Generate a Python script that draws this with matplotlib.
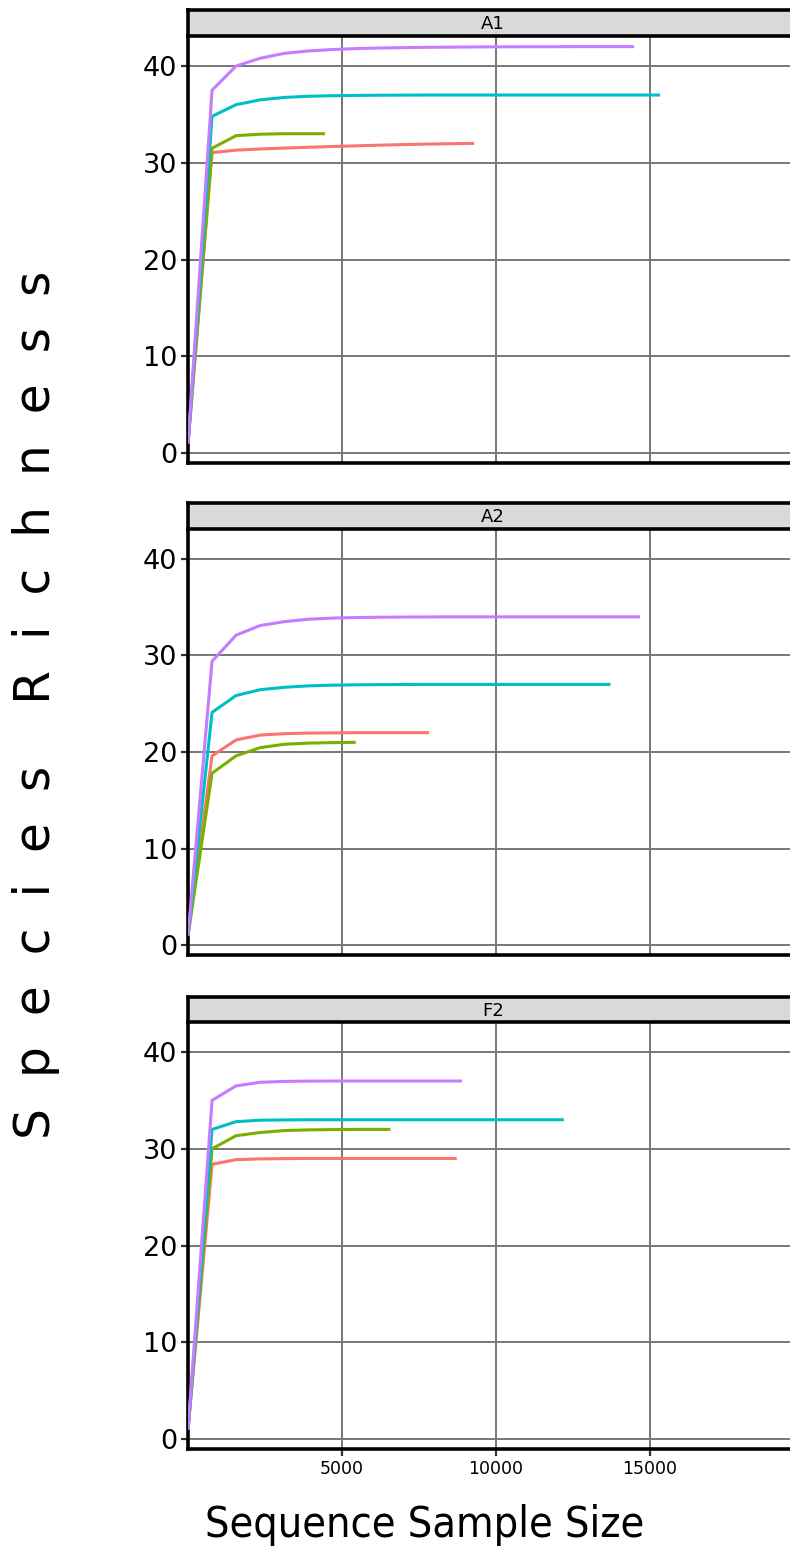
####################################################################
# rarefaction curves, 3 facets (A1 / A2 / F2), ggplot-ish look
####################################################################

import matplotlib
matplotlib.use("Agg")
from matplotlib import pyplot as plt
from matplotlib import font_manager as fm

# sampling depths shared by every curve (last point = the sample size)
depth_grid = [1, 781, 1561, 2341, 3121, 3901, 4681, 5461, 6241, 7021, 7801,
              8581, 9361, 10141, 10921, 11701, 12481, 13261, 14041, 14821]

facets = ["A1", "A2", "F2"]
colors = ["#F8766D", "#7CAE00", "#00BFC4", "#C77CFF"]

# final sample size of each curve, per facet (red, green, cyan, purple)
a1_ends = [9286, 4448, 15325, 14481]
a2_ends = [7825, 5445, 13712, 14675]
f2_ends = [8723, 6568, 12198, 8896]

# richness values along depth_grid (+ the end point)
a1_red = [1, 31.05, 31.3, 31.42, 31.52, 31.6, 31.68, 31.75, 31.82, 31.88, 31.93, 31.97, 32.0]
a1_green = [1, 31.5, 32.8, 32.95, 33.0, 33.0, 33.0]
a1_cyan = [1, 34.8, 36.0, 36.5, 36.75, 36.87, 36.93, 36.96, 36.98, 36.99,
           37, 37, 37, 37, 37, 37, 37, 37, 37, 37, 37]
a1_purple = [1, 37.5, 40.0, 40.8, 41.3, 41.55, 41.7, 41.8, 41.86, 41.9, 41.93,
             41.95, 41.97, 41.98, 41.99, 41.99, 42, 42, 42, 42]

a2_red = [1, 19.6, 21.25, 21.75, 21.9, 21.96, 21.98, 22, 22, 22, 22, 22]
a2_green = [1, 17.8, 19.6, 20.45, 20.8, 20.92, 20.97, 21.0]
a2_cyan = [1, 24.1, 25.85, 26.45, 26.7, 26.85, 26.92, 26.96, 26.98, 26.99,
           27, 27, 27, 27, 27, 27, 27, 27, 27]
a2_purple = [1, 29.4, 32.1, 33.1, 33.5, 33.75, 33.87, 33.93, 33.96, 33.98, 33.99,
             34, 34, 34, 34, 34, 34, 34, 34, 34]

f2_red = [1, 28.4, 28.87, 28.95, 28.98, 29, 29, 29, 29, 29, 29, 29, 29]
f2_green = [1, 30.0, 31.35, 31.68, 31.88, 31.95, 31.98, 32, 32, 32]
f2_cyan = [1, 32.0, 32.8, 32.95, 32.98, 33, 33, 33, 33, 33, 33, 33, 33, 33, 33, 33, 33]
f2_purple = [1, 35.0, 36.5, 36.87, 36.96, 36.99, 37, 37, 37, 37, 37, 37, 37]

facet_data = {
    "A1": (a1_ends, [a1_red, a1_green, a1_cyan, a1_purple]),
    "A2": (a2_ends, [a2_red, a2_green, a2_cyan, a2_purple]),
    "F2": (f2_ends, [f2_red, f2_green, f2_cyan, f2_purple]),
}

y_ticks = [0, 10, 20, 30, 40]
x_ticks = [5000, 10000, 15000]
x_ticklabels = ["5000", "10000", "15000"]

#####################################################################

W, H = 790, 1551
fig = plt.figure(figsize=(W / 100, H / 100), dpi=100)

# pixel boxes (top, bottom) of each strip / panel
strip_px = [(10, 36), (503, 529), (997, 1022)]
panel_px = [(36, 463), (529, 955), (1022, 1449)]
left_px, right_px = 188, 798


def box(top, bot):
    return [left_px / W, 1 - bot / H, (right_px - left_px) / W, (bot - top) / H]


for i, name in enumerate(facets):
    ax = fig.add_axes(box(*panel_px[i]))
    ends, series = facet_data[name]
    for ys, end, col in zip(series, ends, colors):
        xs = depth_grid[:len(ys) - 1] + [end]
        ax.plot(xs, ys, color=col, lw=2.2, solid_capstyle="butt", zorder=3)

    ax.set_xlim(0, 19800)
    ax.set_ylim(-1.03, 43.1)
    ax.set_yticks(y_ticks)
    ax.set_xticks(x_ticks)
    ax.grid(True, color="#777777", lw=1.4, zorder=0)
    ax.set_axisbelow(True)
    for s in ["top", "right"]:
        ax.spines[s].set_visible(False)
    for s in ["left", "bottom"]:
        ax.spines[s].set_linewidth(2.6)
        ax.spines[s].set_color("black")
    ax.tick_params(axis="y", labelsize=19.5, length=5, width=1.6, color="#333333", pad=3)
    if i == 2:
        ax.set_xticklabels(x_ticklabels)
        ax.tick_params(axis="x", labelsize=12.5, length=5, width=1.6, color="#333333", pad=3)
    else:
        ax.tick_params(axis="x", length=0, labelbottom=False)

    # facet strip
    sx = fig.add_axes(box(*strip_px[i]))
    sx.set_facecolor("#D9D9D9")
    sx.set_xticks([])
    sx.set_yticks([])
    sx.set_xlim(0, 1)
    sx.set_ylim(0, 1)
    for s in sx.spines.values():
        s.set_linewidth(2.6)
        s.set_color("black")
    sx.spines["right"].set_visible(False)
    sx.text(0.5, 0.45, name, ha="center", va="center", fontsize=13)

# x title looks horizontally narrow -> condensed DejaVu if it is there
cond = [f.fname for f in fm.fontManager.ttflist
        if "DejaVuSansCondensed.ttf" in f.fname]
if cond:
    xlab_font = fm.FontProperties(fname=cond[0], size=31)
else:
    xlab_font = fm.FontProperties(family="DejaVu Sans", size=27.5)

fig.text(425 / W, 1 - 1525 / H, "Sequence Sample Size", ha="center", va="center",
         fontproperties=xlab_font)
fig.text(36 / W, 1 - 705 / H, "S  p  e  c  i  e  s    R  i  c  h  n  e  s  s",
         ha="center", va="center", rotation=90, fontsize=35)

plt.savefig("out.png", dpi=100)
